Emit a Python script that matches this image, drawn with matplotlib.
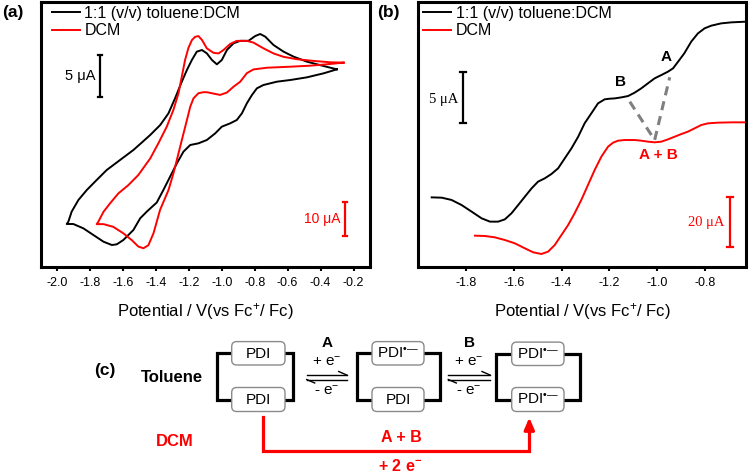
import matplotlib.pyplot as plt
from matplotlib.patches import FancyBboxPatch

plt.rcParams['font.family'] = ['Liberation Sans', 'DejaVu Sans']
plt.rcParams['axes.unicode_minus'] = False
plt.rcParams['mathtext.fontset'] = 'custom'
plt.rcParams['mathtext.rm'] = 'Liberation Sans'
plt.rcParams['mathtext.it'] = 'Liberation Sans:italic'
plt.rcParams['mathtext.bf'] = 'Liberation Sans:bold'

RED = '#ff0000'
GREY = '#808080'

# (a) cyclic voltammograms, current in uA
cv_tol_v = [-0.301, -0.382, -0.483, -0.584, -0.665, -0.747, -0.787, -0.817, -0.848, -0.878,
            -0.909, -0.949, -1.000, -1.040, -1.091, -1.142, -1.192, -1.233, -1.273, -1.314,
            -1.355, -1.395, -1.456, -1.496, -1.537, -1.598, -1.638, -1.668, -1.719, -1.780,
            -1.841, -1.902, -1.942,
            -1.932, -1.912, -1.871, -1.820, -1.760, -1.699, -1.618, -1.537, -1.480, -1.435,
            -1.374, -1.324, -1.284, -1.243, -1.212, -1.182, -1.152, -1.121, -1.091, -1.060,
            -1.030, -1.000, -0.969, -0.929, -0.888, -0.838, -0.797, -0.767, -0.736, -0.686,
            -0.625, -0.564, -0.483, -0.382, -0.301]
cv_tol_i = [11.68, 11.2, 10.72, 10.4, 10.2, 9.8, 9.4, 8.6, 7.6, 6.4,
            5.6, 5.2, 4.8, 4.0, 3.2, 2.8, 2.6, 1.8, 0.4, -1.2,
            -2.8, -4.3, -5.4, -6.2, -7.6, -8.8, -9.32, -9.4, -9.0, -8.2,
            -7.4, -6.88, -6.88,
            -6.6, -5.4, -4.0, -2.8, -1.6, -0.4, 0.8, 2.0, 3.0, 3.8,
            5.0, 6.4, 8.2, 10.2, 11.6, 12.8, 13.8, 14.0, 13.6, 12.8,
            12.28, 12.8, 14.0, 14.8, 15.1, 15.1, 15.68, 15.92, 15.6, 14.6,
            13.8, 13.2, 12.6, 12.08, 11.68]
cv_dcm_v = [-0.260, -0.341, -0.463, -0.584, -0.726, -0.808, -0.848, -0.888, -0.929, -0.969,
            -1.010, -1.051, -1.091, -1.112, -1.142, -1.172, -1.192, -1.212, -1.243, -1.273,
            -1.294, -1.324, -1.375, -1.415, -1.446, -1.476, -1.507, -1.547, -1.598, -1.659,
            -1.719, -1.760,
            -1.750, -1.719, -1.679, -1.628, -1.567, -1.507, -1.456, -1.435, -1.385, -1.334,
            -1.294, -1.263, -1.243, -1.223, -1.203, -1.182, -1.162, -1.142, -1.121, -1.091,
            -1.051, -1.020, -0.990, -0.949, -0.909, -0.848, -0.808, -0.747, -0.686, -0.625,
            -0.544, -0.443, -0.341, -0.260]
cv_dcm_i = [25.7, 25.3, 24.8, 24.5, 24.2, 23.7, 22.6, 20.1, 18.6, 16.9,
            16.2, 16.6, 17.0, 17.0, 16.7, 15.2, 12.7, 8.8, 2.9, -2.9,
            -6.9, -11.8, -17.6, -24.5, -28.0, -28.9, -28.4, -26.5, -24.5, -22.6,
            -21.8, -21.8,
            -21.1, -18.2, -15.7, -12.75, -10.3, -7.35, -3.9, -2.5, 2.0, 6.9,
            11.8, 16.7, 21.6, 26.5, 30.0, 32.3, 33.3, 33.5, 32.4, 29.9,
            28.6, 28.4, 29.4, 31.2, 32.1, 32.1, 31.6, 29.9, 28.4, 27.4,
            26.7, 26.2, 25.8, 25.7]

# (b) differential pulse traces, current in uA
dp_tol_v = [-1.944, -1.902, -1.861, -1.819, -1.777, -1.735, -1.700, -1.666, -1.638, -1.610,
            -1.582, -1.554, -1.526, -1.499, -1.471, -1.443, -1.415, -1.387, -1.359, -1.331,
            -1.304, -1.276, -1.248, -1.220, -1.199, -1.178, -1.150, -1.122, -1.095, -1.067,
            -1.039, -1.011, -0.983, -0.955, -0.934, -0.913, -0.887, -0.858, -0.830, -0.802,
            -0.774, -0.733, -0.690, -0.635]
dp_tol_i = [3.48, 3.45, 3.23, 2.74, 2.10, 1.45, 1.13, 1.13, 1.35, 1.94,
            2.74, 3.55, 4.35, 5.0, 5.32, 5.74, 6.29, 7.26, 8.23, 9.35,
            10.65, 11.61, 12.58, 12.97, 13.03, 13.06, 13.16, 13.29, 13.61, 14.03,
            14.52, 15.0, 15.32, 15.65, 15.97, 16.61, 17.42, 18.55, 19.35, 19.84,
            20.10, 20.32, 20.42, 20.48]
dp_dcm_v = [-1.763, -1.721, -1.680, -1.638, -1.596, -1.554, -1.519, -1.485, -1.457, -1.429,
            -1.401, -1.373, -1.346, -1.318, -1.290, -1.262, -1.234, -1.206, -1.185, -1.164,
            -1.136, -1.095, -1.067, -1.039, -1.011, -0.983, -0.955, -0.927, -0.899, -0.872,
            -0.844, -0.816, -0.788, -0.746, -0.690, -0.635]
dp_dcm_i = [12.57, 12.43, 11.89, 10.81, 9.46, 7.43, 5.81, 5.14, 6.08, 8.78,
            12.84, 16.89, 21.62, 27.03, 33.11, 39.19, 44.59, 48.65, 50.27, 51.08,
            51.35, 51.35, 51.08, 50.68, 50.41, 50.68, 51.62, 52.70, 53.78, 54.73,
            56.08, 57.43, 58.11, 58.38, 58.51, 58.51]

fig = plt.figure(figsize=(7.5, 4.73), dpi=100)
W, H = 750, 473


def make_axes(x0, x1):
    ax = fig.add_axes([x0 / W, 1 - 267 / H, (x1 - x0) / W, 265 / H])
    axr = ax.twinx()
    for s in ax.spines.values():
        s.set_linewidth(2.2)
    for s in axr.spines.values():
        s.set_visible(False)
    ax.set_yticks([])
    axr.set_yticks([])
    ax.tick_params(axis='x', direction='out', length=3, width=1.5, labelsize=9, pad=4)
    ax.set_xlabel('Potential / V(vs Fc$^{+}$/ Fc)', fontsize=12, labelpad=9)
    return ax, axr


def scale_bar(ax, x, y0, y1, color):
    ax.plot([x, x], [y0, y1], color=color, lw=1.6, solid_capstyle='butt')
    w = 0.012
    ax.plot([x - w, x + w], [y0, y0], color=color, lw=1.6)
    ax.plot([x - w, x + w], [y1, y1], color=color, lw=1.6)


# ---- (a)
ax_a, ax_ar = make_axes(40.7, 370)
l1, = ax_a.plot(cv_tol_v, cv_tol_i, color='black', lw=1.4)
l2, = ax_ar.plot(cv_dcm_v, cv_dcm_i, color=RED, lw=1.4)
ax_a.set_xlim(-2.1, -0.1)
ax_a.set_ylim(-12.04, 19.76)
ax_ar.set_ylim(-34.41, 43.53)
ax_a.set_xticks([-2.0, -1.8, -1.6, -1.4, -1.2, -1.0, -0.8, -0.6, -0.4, -0.2])
ax_a.set_xticklabels(['-2.0', '-1.8', '-1.6', '-1.4', '-1.2', '-1.0', '-0.8', '-0.6', '-0.4', '-0.2'])
scale_bar(ax_a, -1.739, 8.4, 13.4, 'black')
ax_a.text(-1.770, 10.88, '5 μA', ha='right', va='center', fontsize=10.5)
scale_bar(ax_ar, -0.250, -25.2, -15.2, RED)
ax_ar.text(-0.280, -20.3, '10 μA', ha='right', va='center', fontsize=10, color=RED)
ax_ar.legend([l1, l2], ['1:1 (v/v) toluene:DCM', 'DCM'], loc='upper left',
             bbox_to_anchor=(0.033, 0.985), frameon=False, fontsize=11.5,
             handlelength=1.75, handletextpad=0.3, borderpad=0, borderaxespad=0,
             labelspacing=0.15)

# ---- (b)
ax_b, ax_br = make_axes(418.3, 745.7)
m1, = ax_b.plot(dp_tol_v, dp_tol_i, color='black', lw=1.4)
m2, = ax_br.plot(dp_dcm_v, dp_dcm_i, color=RED, lw=1.4)
ax_b.set_xlim(-2.0, -0.63)
ax_b.set_ylim(-3.26, 22.39)
ax_br.set_ylim(-0.135, 107.3)
ax_b.set_xticks([-1.8, -1.6, -1.4, -1.2, -1.0, -0.8])
ax_b.set_xticklabels(['-1.8', '-1.6', '-1.4', '-1.2', '-1.0', '-0.8'])
scale_bar(ax_b, -1.812, 10.65, 15.65, 'black')
ax_b.text(-1.833, 12.97, '5 μA', ha='right', va='center', fontsize=10.5,
          family='Liberation Serif')
scale_bar(ax_br, -0.697, 8.1, 28.1, RED)
ax_br.text(-0.718, 17.8, '20 μA', ha='right', va='center', fontsize=10.5,
           family='Liberation Serif', color=RED)
ax_b.plot([-1.115, -1.011, -0.948], [12.74, 9.03, 15.10], ls='--', color=GREY,
          lw=2.2, dashes=(3, 2))
ax_b.text(-1.154, 14.68, 'B', ha='center', va='center', fontsize=11, fontweight='bold')
ax_b.text(-0.962, 17.03, 'A', ha='center', va='center', fontsize=11, fontweight='bold')
ax_b.text(-0.997, 7.58, 'A + B', ha='center', va='center', fontsize=11,
          fontweight='bold', color=RED)
ax_br.legend([m1, m2], ['1:1 (v/v) toluene:DCM', 'DCM'], loc='upper left',
             bbox_to_anchor=(0.015, 0.985), frameon=False, fontsize=11.5,
             handlelength=1.75, handletextpad=0.3, borderpad=0, borderaxespad=0,
             labelspacing=0.15)

fig.text(2 / W, 1 - 13 / H, '(a)', fontsize=12.5, fontweight='bold', va='center')
fig.text(377 / W, 1 - 13 / H, '(b)', fontsize=12.5, fontweight='bold', va='center')

# ---- (c) scheme, drawn in pixel units
ax_c = fig.add_axes([0, 0, 1, 1])
ax_c.set_xlim(0, W)
ax_c.set_ylim(H, 0)
ax_c.axis('off')
ax_c.patch.set_visible(False)


def pdi_box(x0, x1, y0, y1, label):
    ax_c.add_patch(FancyBboxPatch((x0, y0), x1 - x0, y1 - y0,
                                  boxstyle='round,pad=0,rounding_size=5',
                                  fc='white', ec='#8a8a8a', lw=1.0, zorder=3))
    ax_c.text((x0 + x1) / 2, (y0 + y1) / 2 + 0.5, label, ha='center', va='center',
              fontsize=11, zorder=4)


def dimer(xl, xr, bx0, bx1, top, bot, lab_top, lab_bot):
    ax_c.plot([bx0, xl, xl, bx0], [top, top, bot, bot], color='black', lw=2.3, zorder=2,
              solid_joinstyle='miter')
    ax_c.plot([bx1, xr, xr, bx1], [top, top, bot, bot], color='black', lw=2.3, zorder=2,
              solid_joinstyle='miter')
    pdi_box(bx0, bx1, top - 11.7, top + 11.7, lab_top)
    pdi_box(bx0, bx1, bot - 12, bot + 12, lab_bot)


rad = 'PDI$^{•—}$'
dimer(216.7, 293.3, 231.7, 285, 353.3, 399.5, 'PDI', 'PDI')
dimer(356.7, 440, 372, 424, 353.3, 399.5, rad, 'PDI')
dimer(495.7, 580, 511.7, 564, 353.8, 399.5, rad, rad)


def equilibrium(x0, x1, label):
    ax_c.plot([x0, x1], [375, 375], color='black', lw=1.0)
    ax_c.plot([x1 - 8, x1], [371.5, 375], color='black', lw=1.0)
    ax_c.plot([x0, x1], [379.5, 379.5], color='black', lw=1.0)
    ax_c.plot([x0, x0 + 8], [379.5, 383], color='black', lw=1.0)
    xc = (x0 + x1) / 2
    ax_c.text(xc, 342.5, label, ha='center', va='center', fontsize=11, fontweight='bold')
    ax_c.text(xc, 361.5, '+ e$^{-}$', ha='center', va='center', fontsize=11)
    ax_c.text(xc, 391, '- e$^{-}$', ha='center', va='center', fontsize=11)


equilibrium(306.7, 346.7, 'A')
equilibrium(448.3, 490, 'B')

ax_c.text(105, 370, '(c)', ha='center', va='center', fontsize=12.5, fontweight='bold')
ax_c.text(203, 377.5, 'Toluene', ha='right', va='center', fontsize=12, fontweight='bold')
ax_c.text(193.5, 441.5, 'DCM', ha='right', va='center', fontsize=12, fontweight='bold',
          color=RED)

ax_c.plot([263.3, 263.3, 529.3, 529.3], [417.3, 450.5, 450.5, 428], color=RED, lw=2.3,
          solid_joinstyle='miter')
ax_c.annotate('', xy=(529.3, 417.5), xytext=(529.3, 432),
              arrowprops=dict(arrowstyle='-|>,head_length=0.7,head_width=0.3',
                              color=RED, lw=2.3, shrinkA=0, shrinkB=0))
ax_c.text(401, 437, 'A + B', ha='center', va='center', fontsize=11.5, fontweight='bold',
          color=RED)
ax_c.text(400, 466, '+ 2 e$^{\\mathbf{-}}$', ha='center', va='center', fontsize=11.5,
          fontweight='bold', color=RED)

fig.savefig('out.png', dpi=100)
